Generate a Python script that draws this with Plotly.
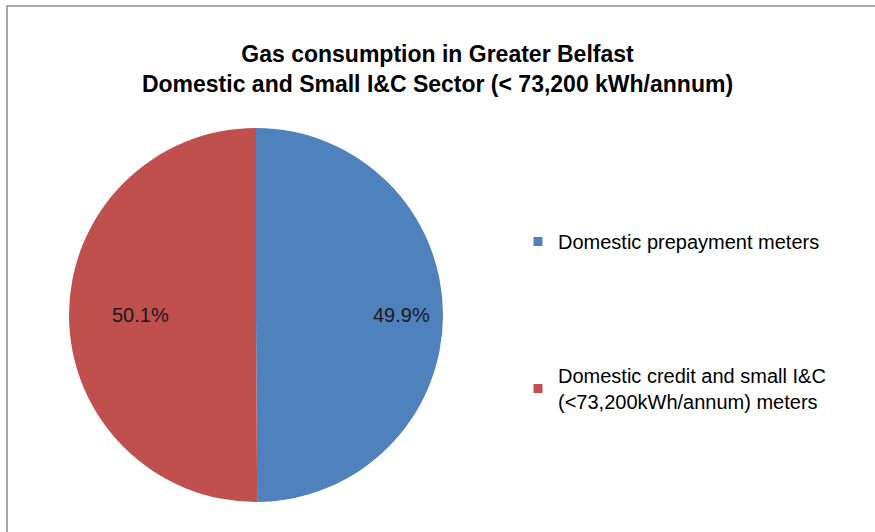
import math
import plotly.graph_objects as go

# data
labels = ["Domestic prepayment meters",
          "Domestic credit and small I&C<br>(&lt;73,200kWh/annum) meters"]
values = [49.9, 50.1]
colors = ["#4F81BD", "#C0504D"]

title_text = ("Gas consumption in Greater Belfast<br>"
              "Domestic and Small I&C Sector (&lt; 73,200 kWh/annum)")

W, H = 875, 532
font = "Liberation Sans, Arial, sans-serif"

# pie geometry in pixels (centre + radius)
cx, cy, R = 256, 315, 187
label_r = 0.78  # where excel puts the "best fit" labels, as a fraction of R

fig = go.Figure()

fig.add_trace(go.Pie(
    labels=labels,
    values=values,
    sort=False,
    direction="clockwise",
    rotation=0,
    marker=dict(colors=colors, line=dict(color="#FFFFFF", width=0)),
    textinfo="none",
    domain=dict(x=[(cx - R) / W, (cx + R) / W],
                y=[(H - cy - R) / H, (H - cy + R) / H]),
    showlegend=False,
    hoverinfo="label+percent",
))

# percentage labels placed along each slice's mid angle
total = sum(values)
cum = 0
annotations = []
for v in values:
    mid = (cum + v / 2) / total * 2 * math.pi
    cum += v
    annotations.append(dict(
        x=(cx + label_r * R * math.sin(mid)) / W,
        y=(H - cy + label_r * R * math.cos(mid)) / H,
        xref="paper", yref="paper",
        text="%.1f%%" % (v / total * 100),
        showarrow=False,
        font=dict(family=font, size=20, color="#1A1A1A"),
    ))

# legend entries, one group each so tracegroupgap spaces them
for i, (lab, col) in enumerate(zip(labels, colors)):
    fig.add_trace(go.Scatter(
        x=[None], y=[None],
        mode="markers",
        marker=dict(symbol="square", size=9, color=col),
        name=lab,
        legendgroup="g%d" % i,
        showlegend=True,
    ))

fig.update_layout(
    width=W, height=H,
    margin=dict(l=0, r=0, t=0, b=0),
    paper_bgcolor="white",
    plot_bgcolor="white",
    font=dict(family=font, color="#000000"),
    title=dict(
        text="<b>" + title_text + "</b>",
        x=0.5, xanchor="center",
        y=1 - 62 / H, yanchor="middle", yref="container",
        font=dict(family=font, size=23, color="#000000"),
    ),
    xaxis=dict(visible=False),
    yaxis=dict(visible=False),
    annotations=annotations,
    legend=dict(
        x=518 / W, xanchor="left",
        y=1 - 222 / H, yanchor="top",
        font=dict(family=font, size=20, color="#000000"),
        tracegroupgap=105,
        bgcolor="rgba(0,0,0,0)",
        itemclick=False,
    ),
    shapes=[dict(
        type="rect", xref="paper", yref="paper",
        x0=7 / W, x1=1.05, y0=-0.05, y1=1 - 6 / H,
        line=dict(color="#8C8C8C", width=1.5),
        fillcolor="rgba(0,0,0,0)",
    )],
)

# the page body has a default 8px margin; drop it so the figure sits at 0,0
fig.write_html("out.html", config={"displayModeBar": False},
               post_script="document.body.style.margin='0';")
